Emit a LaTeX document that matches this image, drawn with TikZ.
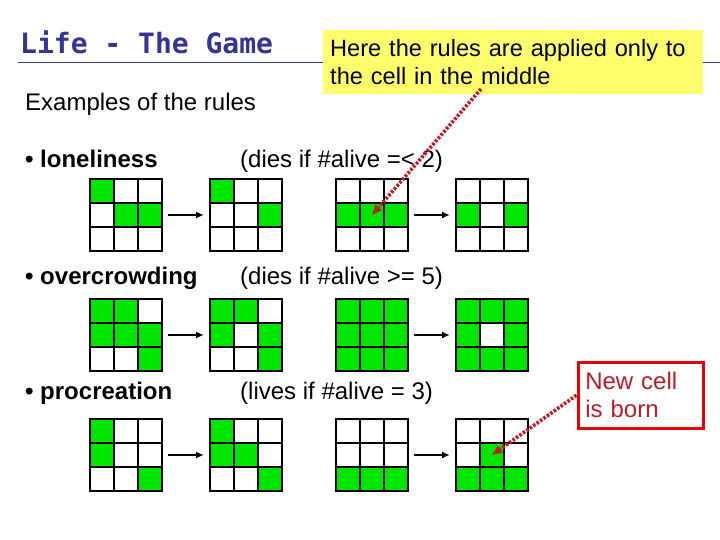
\documentclass[tikz,border=0pt]{standalone}
\usepackage{fontspec}
\setmainfont{Liberation Sans}
\newfontfamily\titlefont{DejaVu Sans Mono}
\usetikzlibrary{arrows.meta}
\definecolor{alivegreen}{RGB}{0,230,0}
\definecolor{titleblue}{RGB}{51,51,153}
\definecolor{ruleblue}{RGB}{60,60,110}
\definecolor{noteyellow}{RGB}{255,255,110}
\definecolor{pointred}{RGB}{190,30,40}
\definecolor{boxred}{RGB}{235,0,0}
\definecolor{textred}{RGB}{185,30,40}
\tikzset{
  alive/.style={fill=alivegreen},
  gridline/.style={line width=2.4pt, black},
  gridbox/.style={draw=black, line width=2.4pt, minimum size=72pt, inner sep=0pt, outer sep=0pt, rectangle},
  steparrow/.style={line width=1.6pt, -{Latex[length=8pt,width=7pt]}},
  pointer/.style={pointred, line width=3.6pt, dash pattern=on 2.6pt off 1.6pt, -{Latex[length=10pt,width=9pt,line width=0pt]}},
  lbl/.style={anchor=base west, inner sep=0pt, font=\fontsize{24}{28}\selectfont},
  lblb/.style={lbl, font=\fontsize{24}{28}\selectfont\bfseries},
}
\newcommand\lifegrid[4]{%
  \foreach \b [count=\i from 0] in {#4} {
    \pgfmathtruncatemacro\cc{mod(\i,3)}
    \pgfmathtruncatemacro\rr{div(\i,3)}
    \ifnum\b=1 \fill[alive] ({#2+24*\cc},{#3+24*\rr}) rectangle ++(24,24);\fi
  }
  \foreach \k in {24,48} {
    \draw[gridline] ({#2+\k},#3) -- ({#2+\k},{#3+72});
    \draw[gridline] (#2,{#3+\k}) -- ({#2+72},{#3+\k});
  }
  \node[gridbox] (#1) at ({#2+36},{#3+36}) {};
  \coordinate (#1c) at ({#2+36},{#3+36});
}
\begin{document}
\begin{tikzpicture}[x=1pt, y={(0pt,-1pt)}]
\useasboundingbox[fill=white] (0,0) rectangle (720,540);
% title
\node[anchor=base west, inner sep=0pt, text=titleblue, font=\titlefont\bfseries\fontsize{28}{30}\selectfont] (title) at (20,54) {Life - The Game};
\coordinate (ruleL) at (18,62.5);
\coordinate (ruleR) at (720,62.5);
\draw[ruleblue, line width=1pt] (ruleL) -- (ruleR);
% note
\node[anchor=north west, fill=noteyellow, minimum width=380pt, minimum height=64pt, text width=366pt, inner xsep=7pt, inner ysep=0pt, align=left, font=\fontsize{23.6}{28}\selectfont] (note) at (323,30) {Here the rules are applied only to\\the cell in the middle};
\node[lbl] (examples) at (25,111) {Examples of the rules};
% rule labels
\node[lblb] (lone) at (25,168) {• loneliness};
\node[lbl] (lonerule) at (240,168) {(dies if \#alive =< 2)};
\node[lblb] (over) at (25,284) {• overcrowding};
\node[lbl] (overrule) at (240,284) {(dies if \#alive >= 5)};
\node[lblb] (proc) at (25,399) {• procreation};
\node[lbl] (procrule) at (240,399) {(lives if \#alive = 3)};
% grids row 1
\lifegrid{g11}{90}{179}{1,0,0,0,1,1,0,0,0}
\lifegrid{g12}{210}{179}{1,0,0,0,0,1,0,0,0}
\lifegrid{g13}{336}{179}{0,0,0,1,1,1,0,0,0}
\lifegrid{g14}{456}{179}{0,0,0,1,0,1,0,0,0}
% row 2
\lifegrid{g21}{90}{299}{1,1,0,1,1,1,0,0,1}
\lifegrid{g22}{210}{299}{1,1,0,1,0,1,0,0,1}
\lifegrid{g23}{336}{299}{1,1,1,1,1,1,1,1,1}
\lifegrid{g24}{456}{299}{1,1,1,1,0,1,1,1,1}
% row 3
\lifegrid{g31}{90}{419}{1,0,0,1,0,0,0,0,1}
\lifegrid{g32}{210}{419}{1,0,0,1,1,0,0,0,1}
\lifegrid{g33}{336}{419}{0,0,0,0,0,0,1,1,1}
\lifegrid{g34}{456}{419}{0,0,0,0,1,0,1,1,1}
% step arrows
\foreach \r in {1,2,3} {
  \draw[steparrow] ([xshift=6pt]g\r1.east) -- ([xshift=-6pt]g\r2.west);
  \draw[steparrow] ([xshift=6pt]g\r3.east) -- ([xshift=-6pt]g\r4.west);
}
% new cell box
\node[anchor=north west, draw=boxred, line width=3.5pt, minimum width=125pt, minimum height=66pt, text width=111pt, inner xsep=7pt, inner ysep=0pt, align=left, text=textred, font=\fontsize{24}{28}\selectfont] (newcell) at (576.5,360.5) {New cell\\is born};
% pointers
\coordinate (notetail) at (481,89);
\draw[pointer] (notetail) -- (g13c);
\draw[pointer] (newcell.west) -- (g34c);
\end{tikzpicture}
\end{document}
